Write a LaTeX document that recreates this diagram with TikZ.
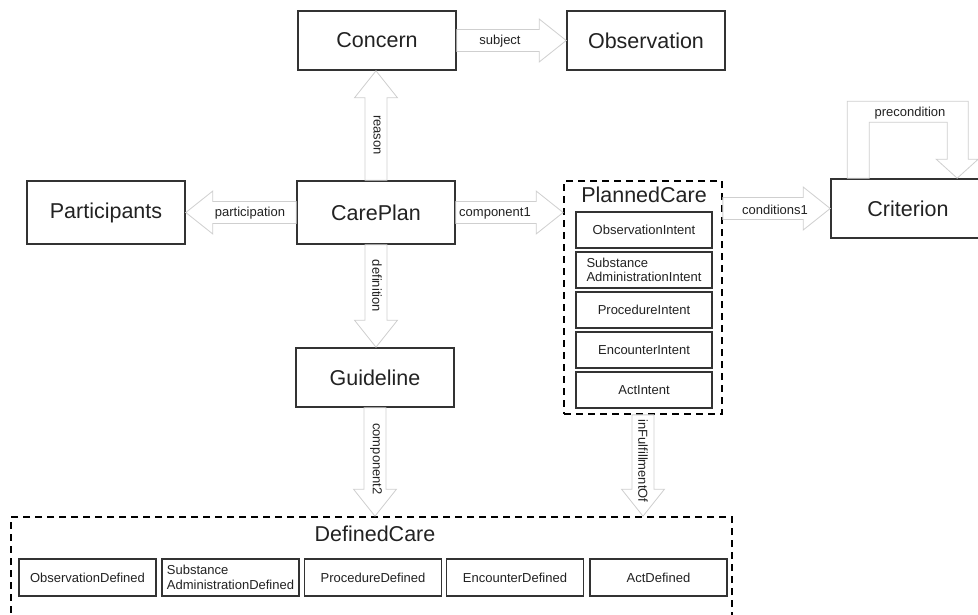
\documentclass[tikz,border=0pt]{standalone}
\usepackage{fontspec}
\setmainfont{Liberation Sans}
\usetikzlibrary{calc}

\definecolor{boxline}{HTML}{333333}
\definecolor{arrowline}{HTML}{CFCFCF}
\definecolor{txt}{HTML}{222222}

\newcommand{\bigtxt}{\fontsize{21.5}{24}\selectfont}
\newcommand{\smalltxt}{\fontsize{13}{14.5}\selectfont}

\tikzset{
  % main class box
  classbox/.style={draw=boxline, line width=1.6pt, fill=white, text=txt,
    inner sep=0pt, minimum width=158pt, minimum height=59pt, font=\bigtxt},
  % member box inside a dashed container
  memberbox/.style={draw=boxline, line width=1.5pt, fill=white, text=txt,
    inner sep=0pt, minimum width=136pt, minimum height=36pt,
    font=\smalltxt, align=left},
  % dashed container
  groupbox/.style={draw=black, line width=1.7pt, dash pattern=on 7pt off 5pt,
    inner sep=0pt},
  grouptitle/.style={text=txt, font=\bigtxt, inner sep=0pt},
  linklabel/.style={text=txt, font=\smalltxt, inner sep=0pt},
  vlinklabel/.style={linklabel, rotate=-90},
  % hollow block arrow from start to target
  fatarrow/.style={draw=arrowline, fill=white, line width=0.8pt,
    line join=miter,
    to path={
      let \p1=(\tikztostart), \p2=(\tikztotarget),
          \n1={veclen(\x2-\x1,\y2-\y1)},
          \n2={(\x2-\x1)/\n1}, \n3={(\y2-\y1)/\n1}
      in
      ({\x1-11*\n3},{\y1+11*\n2})
      -- ({\x1+(\n1-27)*\n2-11*\n3},{\y1+(\n1-27)*\n3+11*\n2})
      -- ({\x1+(\n1-27)*\n2-21.5*\n3},{\y1+(\n1-27)*\n3+21.5*\n2})
      -- (\x2,\y2)
      -- ({\x1+(\n1-27)*\n2+21.5*\n3},{\y1+(\n1-27)*\n3-21.5*\n2})
      -- ({\x1+(\n1-27)*\n2+11*\n3},{\y1+(\n1-27)*\n3-11*\n2})
      -- ({\x1+11*\n3},{\y1-11*\n2}) -- cycle
    }},
}

\begin{document}
\begin{tikzpicture}[x=1pt, y=-1pt]
  \useasboundingbox (0,0) rectangle (978,614);
  \clip (0,0) rectangle (978,614);

  % classes
  \node[classbox] (concern) at (377,40.5) {Concern};
  \node[classbox] (obs) at (646,40.5) {Observation};
  \node[classbox, minimum height=63pt] (part) at (106,212.5) {Participants};
  \node[classbox, minimum height=63pt] (care) at (376,212.5) {CarePlan};
  \node[classbox] (guide) at (375,377.5) {Guideline};
  \node[classbox, minimum width=154pt] (crit) at (908,208.5) {Criterion};

  % planned care container
  \node[groupbox, minimum width=158pt, minimum height=233pt] (planned) at (643,297.5) {};
  \node[grouptitle] (plannedtitle) at (644,195) {PlannedCare};
  \node[memberbox] (oint) at (644,230) {ObservationIntent};
  \node[memberbox] (sint) at (644,270) {Substance\\AdministrationIntent};
  \node[memberbox] (pint) at (644,310) {ProcedureIntent};
  \node[memberbox] (eint) at (644,350) {EncounterIntent};
  \node[memberbox] (aint) at (644,390) {ActIntent};

  % defined care container
  \node[groupbox, minimum width=721pt, minimum height=125pt] (defined) at (371.5,579.5) {};
  \node[grouptitle] (definedtitle) at (375,534) {DefinedCare};
  \node[memberbox, minimum width=137pt, minimum height=37pt] (odef) at (87.5,577.5) {ObservationDefined};
  \node[memberbox, minimum width=137pt, minimum height=37pt] (sdef) at (230.5,577.5) {Substance\\AdministrationDefined};
  \node[memberbox, minimum width=137pt, minimum height=37pt] (pdef) at (373,577.5) {ProcedureDefined};
  \node[memberbox, minimum width=137pt, minimum height=37pt] (edef) at (515,577.5) {EncounterDefined};
  \node[memberbox, minimum width=137pt, minimum height=37pt] (adef) at (658.5,577.5) {ActDefined};

  % associations
  \draw[fatarrow] (concern.east) to (concern.east -| obs.west);
  \node[linklabel] (lsubject) at (500,41) {subject};

  \draw[fatarrow] (care.north) to (care.north |- concern.south);
  \node[vlinklabel] (lreason) at (377,135) {reason};

  \draw[fatarrow] (care.west) to (care.west -| part.east);
  \node[linklabel] (lpart) at (250,213) {participation};

  \draw[fatarrow] (care.east) to (care.east -| planned.west);
  \node[linklabel] (lcomp1) at (495,213) {component1};

  \draw[fatarrow] (care.south) to (care.south |- guide.north);
  \node[vlinklabel] (ldef) at (377,286) {definition};

  \draw[fatarrow] (guide.south) to (guide.south |- defined.north);
  \node[vlinklabel] (lcomp2) at (376,459) {component2};

  \draw[fatarrow] (planned.south) to (planned.south |- defined.north);
  \node[vlinklabel] (lfulfil) at (643,461) {inFulfillmentOf};

  \draw[fatarrow] (planned.east |- crit.west) to (crit.west);
  \node[linklabel] (lcond) at (775,210) {conditions1};

  % self association on Criterion
  \begin{scope}[shift={(crit.north west)}]
    \draw[draw=arrowline, fill=white, line width=0.8pt, line join=miter]
      (17,0) -- (17,-77) -- (138,-77) -- (138,-19) -- (148,-19) -- (127,0)
      -- (106,-19) -- (117,-19) -- (117,-56) -- (39,-56) -- (39,0) -- cycle;
  \end{scope}
  \node[linklabel] (lpre) at (910,113) {precondition};
\end{tikzpicture}
\end{document}
